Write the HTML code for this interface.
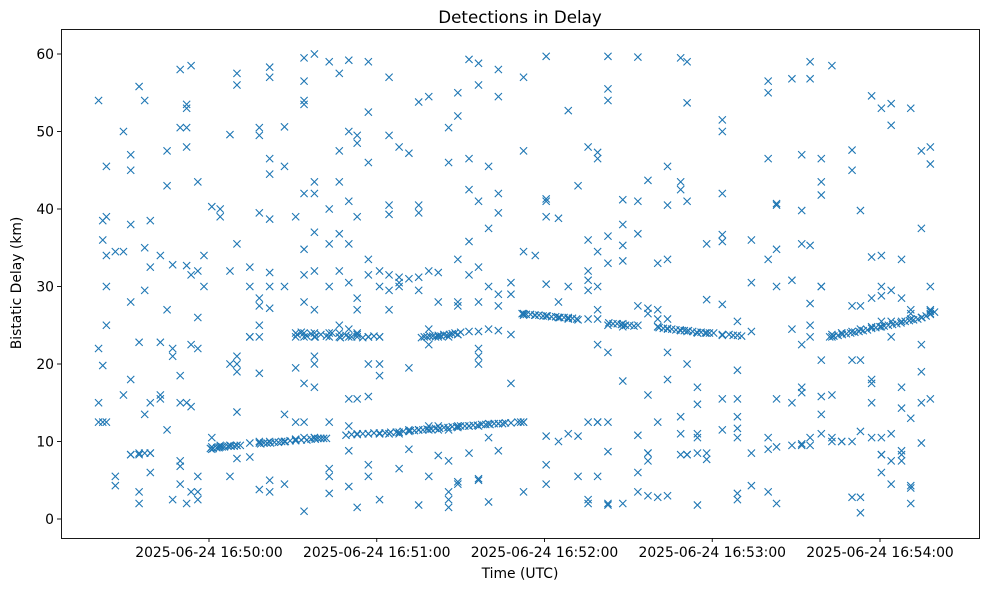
<!DOCTYPE html>
<html><head><meta charset="utf-8"><style>
body{margin:0;background:#fff;font-family:"DejaVu Sans",sans-serif}
svg text{font-family:"DejaVu Sans","Liberation Sans",sans-serif;fill:#000}
</style></head><body>
<svg id="chart" width="989" height="590" xmlns="http://www.w3.org/2000/svg">
<rect width="989" height="590" fill="#fff"/>
<text x="520" y="23" font-size="16.7" text-anchor="middle">Detections in Delay</text>
<text x="520" y="578" font-size="13.9" text-anchor="middle">Time (UTC)</text>
<text transform="translate(21,283) rotate(-90)" font-size="13.9" text-anchor="middle">Bistatic Delay (km)</text>
<g id="marks"></g>
<g id="axes"></g>
<rect x="61.5" y="29.5" width="918" height="509" fill="none" stroke="#000" stroke-width="0.9"/>
</svg>
<script>
const xTickVals=[0,60,120,180,240];
const xTickLabels=["2025-06-24 16:50:00","2025-06-24 16:51:00","2025-06-24 16:52:00","2025-06-24 16:53:00","2025-06-24 16:54:00"];
const yTickVals=[0,10,20,30,40,50,60];
const groupTimes=[-39.5,-38,-36.7,-33.5,-30.6,-28,-25,-23,-21,-17.4,-15,-13,-10.3,-8,-6.4,-4,-1.8,1,4,7.5,10,14.6,18,21.7,27,31,34,37.7,43,46.6,50,53,57,61,64.4,68,71.5,75,78.6,82,85.7,89,93,96.4,100,103.5,108,112.5,116.7,120.6,125,128.5,132,135.6,139,142.7,148,153.4,157,160.5,164,168.7,171,174.7,178,183.6,189,194,200,203,208.5,212,215,219,222.8,226.3,230,233,237,240.5,244,247.7,251,254.8,258];
const groupDelays=[[54,22,15,12.5],[12.5,19.8,36,38.5],[45.5,39,34,30,25,12.5],[34.5,5.5,4.3],[34.5,50,16],[47,45,38,28,18,8.3,8.3],[55.8,22.8,3.5,2,8.5,8.3],[35,29.5,13.5,8.5,54],[32.5,38.5,15,6,8.5,8.5],[34,22.8,15.5,16],[47.5,43,27,11.5],[2.5,22,21,32.8],[58,50.5,18.5,15,7.5,4.5,6.8],[53,53.5,50.5,48,32.7,15,2],[58.5,31.5,22.5,14.5,3.5],[43.5,32,22,2.5,5.5,3.5,26],[34,30],[40.3,10.5,9.3,9],[40,39,9.5,9.3],[49.6,32,20,9.5,9.5,5.5],[35.5,21,20,19,13.8,9.5,7.8,57.5,56],[32.5,30,23.5,23.5,8,9.8],[39.5,28.5,27.5,25,23.5,18.8,10,9.8,3.8,50.5,49.5],[58.3,57,46.5,44.5,38.7,31.8,30,27.2,10,3.5,5],[45.5,30,13.5,10,10,4.5,50.6],[39,24,23.5,19.5,12.5,10.3,10.2],[53.5,54,42,34.8,31.5,28,23.5,24,17.5,12.5,10.5,1,59.5,56.5],[60,43.5,42,37,32,27,24,23.5,21,17,10.5,10.5,20],[40,59,35.5,30,24,23.5,12.5,6.5,5.5,3.3],[57.5,47.5,43.5,36.8,32,25,24,23.5],[59.2,50,41,35.5,30.5,24.5,23.5,15.5,12,4.2,8.8],[49.5,48.5,39,28.5,27,24,23.5,15.5,11,1.5],[59,52.5,46,33.5,31.5,23.5,23.5,15.8,20,11,7,5.5],[32,30,23.5,23.5,20,18.5,11,11,2.5],[40.5,49.5,39.3,31.5,29.5,27,11,11,57],[48,30.5,30,31.2,11,11.2,6.5],[47.2,31,19.5,11.5,11.3,9],[53.8,39.5,40.5,31.2,29.5,11.5,11.5,1.8],[54.5,32,24.5,22.5,12,11.5,5.5],[31.8,28,23.5,12,11.5,8.2],[50.5,46,23.5,11.5,7.5,3.5,1.5,2.5],[55,52,33.5,28,27.5,23.8,12,11.8,4.5,4.8],[59.3,46.5,42.5,35.8,31.5,24.2,12,12,8.5],[58.8,56,41,32.5,28,24.2,22,21,20,12,5.2,5],[45.5,37.5,30,24.5,12.3,10.5,2.2],[54.5,58,42,39.5,27.5,29,24.3,12.3,8.8],[30.5,29,23.8,12.4,17.5],[57,47.5,34.5,26.5,26.3,12.5,12.5,3.5],[34,26.3],[59.7,41.3,41,39,26.2,30.3,10.7,7,4.5],[38.8,28,26,26,10],[52.7,26,11,25.8,30],[43,25.7,10.7,5.5],[48,36,32,30.8,29.5,25.8,12.5,2.5,2],[47.3,46.5,34.5,30,27,25.8,22.5,12.5,5.5,12.5],[59.7,55.5,54,36.5,33,25,21.5,12.5,8.7,2,1.8],[41.2,38,35.3,33.3,25.2,24.8,17.8,2],[59.6,41,36.8,27.5,25,3.5,10.8,6],[43.7,27.2,26.5,16,8.5,8.5,7.5,3],[33,27,24.8,24.8,25.8,12.5,2.8],[45.5,40.5,33.5,25.8,24.5,21.5,18,3],[59.5,43.5,42.5,24.3,13.2,11,8.3],[59,53.7,41,24.2,20,8.3,8.3],[24,17,14.8,8.5,1.8,10.5,11],[35.5,28.3,24,8.5,7.7],[42,51.5,50,36.7,35.8,27.7,23.8,23.7,15.5,11.5],[25.5,15.5,19.2,13.2,11.7,10.5,2.5,3.3],[36,30.5,24.2,8.5,4.3],[46.5,55,56.5,33.5,10.5,9,3.5],[40.5,40.7,34.8,30,15.5,9.3,2],[56.8,30.8,24.5,15,9.5],[47,39.8,35.5,22.5,17,16.3,9.5,9.7],[59,56.8,35.3,27.8,25,23.5,10.5,9.5],[46.5,43.5,41.8,30,30,20.5,15.8,13.5,11],[58.5,23.5,23.8,16,10.5,10],[24,24,10,10],[47.6,45,27.5,24.2,20.5,10,2.8],[39.8,27.5,24.5,20.5,11.3,0.8,2.8],[54.6,33.8,28.5,24.8,15,17.5,18,10.5],[53,34,30,28.8,25.5,24.8,8.3,8.3,6,10.5],[50.8,53.6,29.5,25.5,23.5,11,7.5,4.5],[33.5,28.5,25.5,17,14.3,8.3,8.8,7.5],[53,27,26.5,25.8,13,4.3,4,2],[47.5,37.5,26,19,22.5,15,9.8],[48,45.8,30,27,26.5,26.8,15.5]];
const trackT=[0.5,1.5,2.8,3.6,4.7,5.5,6.8,7.9,9,10,11.2,18.5,19.6,20.8,22,23.4,24.8,26,27.3,29,31,33,35,36.5,38,39,40,41,42,49,51,53,55,57,59,61,63,65,67,69.5,72,73.5,75,76.5,78,79.5,81,82.5,84,85.5,87,88.5,90,91.5,93,94.5,96,97.5,99,100.5,102,103.5,105,106,110.5,111.5];
const trackD=[9.1,9.1,9.2,9.2,9.3,9.3,9.4,9.4,9.4,9.5,9.5,9.7,9.8,9.8,9.8,9.9,9.9,10,10,10.1,10.1,10.2,10.2,10.3,10.3,10.4,10.4,10.4,10.4,10.8,10.9,10.9,11,11,11.1,11.1,11.1,11.2,11.2,11.3,11.4,11.4,11.5,11.5,11.6,11.6,11.7,11.7,11.8,11.8,11.9,11.9,12,12,12,12.1,12.1,12.2,12.2,12.2,12.3,12.3,12.3,12.4,12.5,12.5];
const track2T=[31.5,33,35,36.5,38,40,42,44,47,49,51,53,55,57,59,76,77,78,79,80,81,82,83,84,85,86,87,88,89,90];
const track2D=[23.8,24.1,23.6,23.9,23.5,23.8,23.6,24,23.4,23.7,23.5,23.8,23.4,23.5,23.6,23.4,23.5,23.5,23.6,23.6,23.5,23.7,23.6,23.8,23.7,23.8,23.9,24,23.8,24.1];
const track3T=[112,113.5,115,116.5,118,119.5,121,122.5,124,125.5,127,128.5,130,131.5,143,144.5,146,147.5,149,150.5,152,161,162.5,164,165.5,167,168.5,170,171.5,173,174.5,176,177.5,179,180.5,186,187.5,189,190.5];
const track3D=[26.5,26.4,26.4,26.3,26.3,26.2,26.2,26.1,26.1,26,26,25.9,25.9,25.8,25.3,25.2,25.2,25.1,25,25,24.9,24.7,24.6,24.6,24.5,24.4,24.4,24.3,24.3,24.2,24.1,24.1,24,24,24,23.8,23.7,23.7,23.6];
const track4T=[222,223.5,225,226.5,228,229.5,231,232.5,234,235.5,237,238.5,240,241.5,243,244.5,246,247.5,249,250.5,252,253.5,255,256.5,258,259.5];
const track4D=[23.5,23.6,23.7,23.8,23.9,24,24.1,24.2,24.3,24.4,24.6,24.7,24.8,24.9,25,25.1,25.2,25.3,25.5,25.6,25.7,25.8,26,26.2,26.4,26.7];

const X0=61,X1=979,Y0=29,Y1=538;
function xs(t){return 209+t*(880-209)/240;}
function ys(d){return 519-d*(519-54)/60;}
const NS="http://www.w3.org/2000/svg";
const marks=document.getElementById('marks');
const axes=document.getElementById('axes');
function mk(t,d){
  const x=xs(t),y=ys(d),s=3.6;
  const p=document.createElementNS(NS,'path');
  p.setAttribute('d',`M${x-s},${y-s}L${x+s},${y+s}M${x-s},${y+s}L${x+s},${y-s}`);
  p.setAttribute('stroke','#1f77b4');p.setAttribute('stroke-width','1.1');p.setAttribute('fill','none');
  
  
  marks.appendChild(p);
}
groupTimes.forEach((t,i)=>groupDelays[i].forEach(d=>mk(t,d)));
[[trackT,trackD],[track2T,track2D],[track3T,track3D],[track4T,track4D]].forEach(([T,D])=>T.forEach((t,i)=>mk(t,D[i])));
function line(x1,y1,x2,y2){const l=document.createElementNS(NS,'line');l.setAttribute('x1',x1);l.setAttribute('y1',y1);l.setAttribute('x2',x2);l.setAttribute('y2',y2);l.setAttribute('stroke','#000');l.setAttribute('stroke-width','0.9');return l;}
function txt(x,y,s,anchor){const e=document.createElementNS(NS,'text');e.setAttribute('x',x);e.setAttribute('y',y);e.setAttribute('font-size','13.9');e.setAttribute('text-anchor',anchor);e.textContent=s;return e;}
yTickVals.forEach(v=>{const y=ys(v);
  const l=line(X0-4,y,X0,y);axes.appendChild(l);
  const e=txt(X0-7,y+5,String(v),'end');axes.appendChild(e);});
xTickVals.forEach((v,i)=>{const x=xs(v);
  const l=line(x,Y1,x,Y1+4);axes.appendChild(l);
  const e=txt(x,Y1+19,xTickLabels[i],'middle');axes.appendChild(e);});
</script>
</body></html>
